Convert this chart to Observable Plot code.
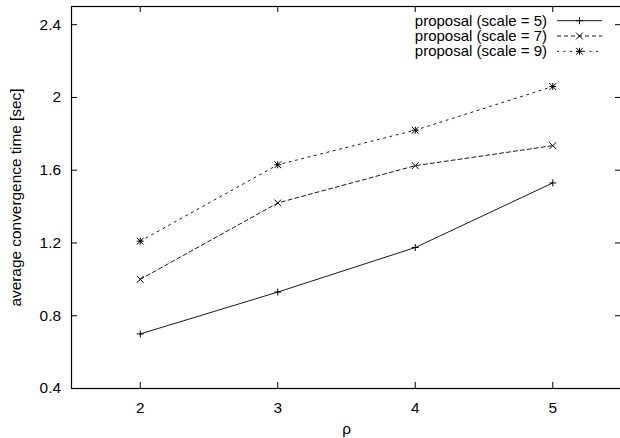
<!DOCTYPE html>
<html><head><meta charset="utf-8">
<script src="https://cdn.jsdelivr.net/npm/d3@7"></script>
<script src="https://cdn.jsdelivr.net/npm/@observablehq/plot@0.6"></script>
<style>
html,body{margin:0;padding:0;background:#fff;}
#chart{position:relative;width:620px;height:438px;overflow:hidden;}
</style></head><body><div id="chart"></div>
<script>
// ---- data ----
const rho = [2, 3, 4, 5];
const scale5 = [0.70, 0.93, 1.175, 1.53];
const scale7 = [1.00, 1.42, 1.625, 1.735];
const scale9 = [1.21, 1.63, 1.82, 2.06];
const seriesNames = ["proposal (scale = 5)", "proposal (scale = 7)", "proposal (scale = 9)"];
const xTicks = [2, 3, 4, 5];
const xTickLabels = ["2", "3", "4", "5"];
const yTicks = [0.4, 0.8, 1.2, 1.6, 2.0, 2.4];
const yTickLabels = ["0.4", "0.8", "1.2", "1.6", "2", "2.4"];
const xLabel = "ρ";
const yLabel = "average convergence time [sec]";

const toRows = (vals, name) => vals.map((v, j) => ({rho: rho[j], t: v, s: name}));
const d5 = toRows(scale5, seriesNames[0]);
const d7 = toRows(scale7, seriesNames[1]);
const d9 = toRows(scale9, seriesNames[2]);

const FONT = "'Liberation Sans', Arial, Helvetica, sans-serif";
const FS = 15.4;
const LINE = "#1a1a1a";
const styles = [
  {dash: null, syms: ["plus"]},
  {dash: "4,3", syms: ["times"]},
  {dash: "2,4.5", syms: ["plus", "times"]}
];
const symR = {plus: 2.4, times: 3.2};

// layout
const W = 620, H = 438, ML = 71, MR = -1, MT = 6, MB = 50;
const FW = W - ML - MR, FH = H - MT - MB, TICK = 6;

const marks = [
  Plot.frame({stroke: "#000", strokeWidth: 1.2}),
  // inward ticks on all four sides (mirror ticks like gnuplot)
  Plot.tickX(xTicks, {x: d => d, insetTop: FH - TICK, stroke: "#000", strokeWidth: 1}),
  Plot.tickX(xTicks, {x: d => d, insetBottom: FH - TICK, stroke: "#000", strokeWidth: 1}),
  Plot.tickY(yTicks, {y: d => d, insetRight: FW - TICK, stroke: "#000", strokeWidth: 1}),
  Plot.tickY(yTicks, {y: d => d, insetLeft: FW - TICK, stroke: "#000", strokeWidth: 1}),
  // tick labels
  Plot.axisX({ticks: xTicks, anchor: "bottom", tickSize: 0, tickPadding: 13.5, label: null, fontSize: FS,
    tickFormat: d => xTickLabels[xTicks.indexOf(d)]}),
  Plot.axisY({ticks: yTicks, anchor: "left", tickSize: 0, tickPadding: 10.5, label: null, fontSize: FS,
    tickFormat: d => yTickLabels[yTicks.indexOf(d)]}),
  // axis titles
  Plot.text([xLabel], {text: d => d, frameAnchor: "bottom", dy: 45, fontSize: FS, textAnchor: "middle"}),
  Plot.text([yLabel], {text: d => d, frameAnchor: "left", dx: -55, rotate: -90, fontSize: FS, textAnchor: "middle"})
];

[d5, d7, d9].forEach((d, i) => {
  marks.push(Plot.line(d, {x: "rho", y: "t", stroke: LINE, strokeWidth: 1, strokeDasharray: styles[i].dash}));
  styles[i].syms.forEach(sym => {
    marks.push(Plot.dot(d, {x: "rho", y: "t", symbol: sym, r: symR[sym], stroke: "#000", fill: "none", strokeWidth: 1}));
  });
});

const chart = Plot.plot({
  width: W, height: H,
  marginLeft: ML, marginRight: MR, marginTop: MT, marginBottom: MB,
  style: {fontFamily: FONT, fontSize: FS + "px", color: "#000", background: "#fff"},
  x: {domain: [1.5, 5.5]},
  y: {domain: [0.4, 2.5]},
  marks
});
document.getElementById("chart").appendChild(chart);

// ---- legend (inside the top-right of the frame) ----
const svg = d3.select(chart);
const LFS = 15;
const lg = svg.append("g").attr("font-family", FONT).attr("font-size", LFS);
const rowY = [20.7, 36, 51.3];
const textX = 547, lineX1 = 557, lineX2 = 602, symX = 579.5;
seriesNames.forEach((name, i) => {
  const y = rowY[i];
  lg.append("text").attr("x", textX).attr("y", y).attr("dy", "0.32em")
    .attr("text-anchor", "end").attr("fill", "#000").text(name);
  lg.append("line").attr("x1", lineX1).attr("x2", lineX2).attr("y1", y).attr("y2", y)
    .attr("stroke", LINE).attr("stroke-width", 1)
    .attr("stroke-dasharray", styles[i].dash);
  styles[i].syms.forEach(sym => {
    const r = symR[sym];
    const type = sym === "plus" ? d3.symbolPlus : d3.symbolTimes;
    lg.append("path").attr("transform", `translate(${symX},${y})`)
      .attr("d", d3.symbol(type, r * r * Math.PI)())
      .attr("fill", "none").attr("stroke", "#000").attr("stroke-width", 1);
  });
});
</script>
</body></html>
